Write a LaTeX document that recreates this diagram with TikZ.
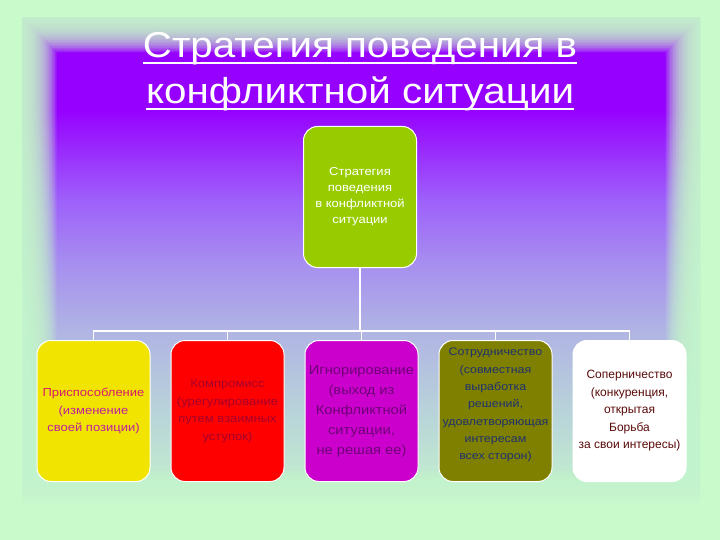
\documentclass[tikz,border=0pt]{standalone}
\usepackage{fontspec}
\setmainfont{Liberation Sans}[FakeStretch=1.13]
\newfontfamily\plainfont{Liberation Sans}
\newfontfamily\titlefont{Liberation Sans}[FakeStretch=1.12]
\usetikzlibrary{positioning}

\definecolor{pageGreen}{RGB}{200,250,204}
\definecolor{pnlB}{RGB}{194,236,207}
\definecolor{pnlC}{RGB}{185,214,216}
\definecolor{pnlD}{RGB}{176,180,228}
\definecolor{pnlE}{RGB}{166,140,240}
\definecolor{pnlF}{RGB}{158,96,250}
\definecolor{pnlG}{RGB}{150,0,255}
\definecolor{rootGreen}{RGB}{153,204,0}
\definecolor{boxYellow}{RGB}{240,228,0}
\definecolor{boxRed}{RGB}{255,0,0}
\definecolor{boxMagenta}{RGB}{204,0,204}
\definecolor{boxOlive}{RGB}{128,128,0}
\definecolor{txtPink}{RGB}{215,25,110}
\definecolor{txtMagenta}{RGB}{190,30,160}
\definecolor{txtMaroon}{RGB}{165,0,45}
\definecolor{txtPurple}{RGB}{110,0,120}
\definecolor{txtNavy}{RGB}{30,50,110}
\definecolor{txtBrown}{RGB}{90,10,10}

\pgfdeclareverticalshading{panelshade}{100bp}{color(0bp)=(pageGreen); color(25bp)=(pageGreen);
  color(27.6bp)=(pnlB); color(33.7bp)=(pnlC); color(43bp)=(pnlD); color(50.2bp)=(pnlE);
  color(56.3bp)=(pnlF); color(65.6bp)=(pnlG); color(100bp)=(pnlG)}

% underline just below the baseline
\newcommand\titleline[1]{\setbox0\hbox{#1}\rlap{\rule[-6pt]{\wd0}{1.8pt}}\box0}

\begin{document}
\begin{tikzpicture}[
        x=1pt, y=-1pt,
        title/.style={text=white, align=center, inner sep=0pt, font=\titlefont\fontsize{36}{46}\selectfont},
        stage/.style={draw=white, line width=1pt, rounded corners=14pt, align=center,
            minimum width=113pt, minimum height=141pt, inner sep=2pt,
            font=\fontsize{11.5}{17.5}\selectfont},
        link/.style={draw=white, line width=1.8pt},
    ]

    % Background
    \useasboundingbox (0,0) rectangle (720,540);
    \fill[pageGreen] (0,0) rectangle (720,540);
    \shade[shading=panelshade] (22,18) rectangle (700,505);
    \foreach \k in {0,...,23}
        \fill[pageGreen, opacity=0.13, even odd rule] (0,0) rectangle (720,540)
            (22+\k*1.5,18+\k*1.5) rectangle (700-\k*1.5,505-\k*1.5);

    % Title
    \node[title, anchor=base] (heading) at (360,104)
        {\titleline{Стратегия поведения в}\\ \titleline{конфликтной ситуации}};

    % Nodes
    \node[stage, fill=rootGreen, text=white, font=\fontsize{11.5}{16}\selectfont] (root) at (360,197)
        {Стратегия\\ поведения\\ в конфликтной\\ ситуации};
    \node[stage, fill=boxYellow, text=txtMagenta] (adapt) at (93.5,411)
        {\textcolor{txtPink}{Приспособление}\\ (изменение\\ своей позиции)};
    \node[stage, fill=boxRed, text=txtMaroon, right=20pt of adapt] (compromise)
        {Компромисс\\ (урегулирование\\ путем взаимных\\ уступок)};
    \node[stage, fill=boxMagenta, text=txtPurple, font=\fontsize{13}{20}\selectfont,
        right=20pt of compromise] (ignore)
        {Игнорирование\\ (выход из\\ Конфликтной\\ ситуации,\\ не решая ее)};
    \node[stage, fill=boxOlive, text=txtNavy, font=\fontsize{11}{17.3}\selectfont,
        right=20pt of ignore] (cooperate)
        {Сотрудничество\\ (совместная\\ выработка\\ решений,\\ удовлетворяющая\\ интересам\\ всех сторон)\rule[-14pt]{0pt}{14pt}};
    \node[stage, fill=white, text=txtBrown, font=\plainfont\fontsize{12}{17.5}\selectfont,
        right=20pt of cooperate] (compete)
        {Соперничество\\ (конкуренция,\\ открытая\\ Борьба\\ за свои интересы)};

    % Connectors
    \coordinate (bus) at (360,331);
    \draw[link] (root.south) -- (bus);
    \foreach \c in {adapt, compromise, ignore, cooperate, compete}
        \draw[link] (bus) -| (\c.north);

\end{tikzpicture}
\end{document}
